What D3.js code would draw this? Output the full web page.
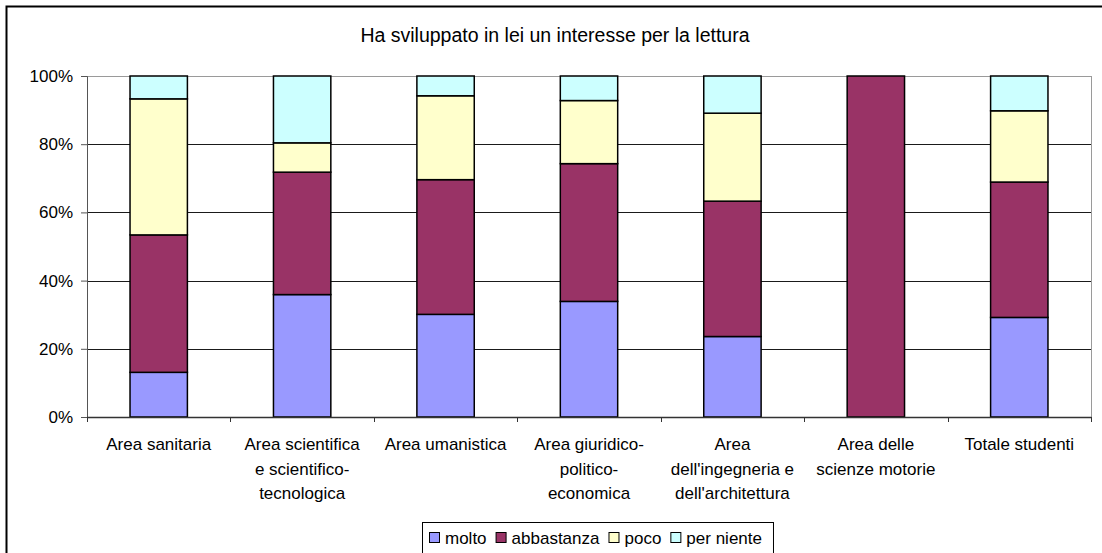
<!DOCTYPE html>
<html>
<head>
<meta charset="utf-8">
<script src="https://cdn.jsdelivr.net/npm/d3@7"></script>
<style>
  body { margin: 0; background: #fff; }
  text { font-family: "Liberation Sans", Arial, sans-serif; fill: #000; }
</style>
</head>
<body>
<div class="chart"></div>
<script>
var svgWidth = 1102;
var svgHeight = 553;
var margin = {top: 76, right: 11, bottom: 136, left: 87};
var width = svgWidth - margin.left - margin.right;
var height = svgHeight - margin.top - margin.bottom;

var titleText = "Ha sviluppato in lei un interesse per la lettura";

// categories (one line per label row)
var categories = [
    ["Area sanitaria"],
    ["Area scientifica", "e scientifico-", "tecnologica"],
    ["Area umanistica"],
    ["Area giuridico-", "politico-", "economica"],
    ["Area", "dell'ingegneria e", "dell'architettura"],
    ["Area delle", "scienze motorie"],
    ["Totale studenti"]
];
var seriesNames = ["molto", "abbastanza", "poco", "per niente"];
var seriesColors = ["#9999FF", "#993366", "#FFFFCC", "#CCFFFF"];

// percent values
var molto      = [13.1, 35.9, 30.1, 33.9, 23.6, 0,   29.2];
var abbastanza = [40.3, 35.9, 39.5, 40.4, 39.7, 100, 39.7];
var poco       = [39.9,  8.6, 24.6, 18.5, 25.8, 0,   20.9];
var perNiente  = [ 6.7, 19.6,  5.8,  7.2, 10.9, 0,   10.2];

var yTicks = [0, 20, 40, 60, 80, 100];

var rows = categories.map(function(c, i) {
    return {idx: i, molto: molto[i], abbastanza: abbastanza[i], poco: poco[i], "per niente": perNiente[i]};
});
var stacked = d3.stack().keys(seriesNames)(rows);

var svg = d3.select(".chart")
    .append("svg")
    .attr("width", svgWidth)
    .attr("height", svgHeight);

// outer frame
svg.append("rect")
    .attr("x", 6.5).attr("y", 6.5)
    .attr("width", 1200).attr("height", 700)
    .attr("fill", "none")
    .attr("stroke", "#000")
    .attr("stroke-width", 2);

svg.append("text")
    .attr("x", 555)
    .attr("y", 42)
    .attr("text-anchor", "middle")
    .style("font-size", "19.5px")
    .text(titleText);

var chartGroup = svg.append("g")
    .attr("transform", "translate(" + margin.left + "," + margin.top + ")");

var xScale = d3.scaleBand()
    .domain(d3.range(categories.length))
    .range([0, width])
    .paddingInner(0.6)
    .paddingOuter(0.3);

var yScale = d3.scaleLinear().domain([0, 100]).range([height, 0]);

// gridlines
chartGroup.selectAll(".grid")
    .data(yTicks.filter(function(t) { return t > 0 && t < 100; }))
    .enter()
    .append("line")
    .attr("x1", 0).attr("x2", width)
    .attr("y1", function(d) { return Math.round(yScale(d)) + 0.5; })
    .attr("y2", function(d) { return Math.round(yScale(d)) + 0.5; })
    .attr("stroke", "#1a1a1a");

// plot area border
chartGroup.append("rect")
    .attr("x", 0.5).attr("y", 0.5)
    .attr("width", width).attr("height", height)
    .attr("fill", "none")
    .attr("stroke", "#9a9a9a");

// bars
chartGroup.selectAll(".series")
    .data(stacked)
    .enter()
    .append("g")
    .attr("fill", function(d, i) { return seriesColors[i]; })
    .selectAll("rect")
    .data(function(d) { return d.filter(function(p) { return p[1] - p[0] > 0; }); })
    .enter()
    .append("rect")
    .attr("x", function(d) { return xScale(d.data.idx); })
    .attr("width", xScale.bandwidth())
    .attr("y", function(d) { return yScale(d[1]); })
    .attr("height", function(d) { return yScale(d[0]) - yScale(d[1]); })
    .attr("stroke", "#000")
    .attr("stroke-width", 1.5);

// y axis
var leftAxis = d3.axisLeft(yScale)
    .tickValues(yTicks)
    .tickSize(6)
    .tickPadding(8)
    .tickFormat(function(d) { return d + "%"; });

var yAxisG = chartGroup.append("g").call(leftAxis);
yAxisG.select(".domain").attr("stroke", "#555");
yAxisG.selectAll(".tick line").attr("stroke", "#555");
yAxisG.selectAll(".tick text")
    .style("font-family", "'Liberation Sans', Arial, sans-serif")
    .style("font-size", "17px")
    .attr("fill", "#000");

// x axis line and category boundary ticks
chartGroup.append("line")
    .attr("x1", 0).attr("x2", width + 0.5)
    .attr("y1", height + 0.5).attr("y2", height + 0.5)
    .attr("stroke", "#333")
    .attr("stroke-width", 1.5);

chartGroup.selectAll(".xtick")
    .data(d3.range(categories.length + 1))
    .enter()
    .append("line")
    .attr("x1", function(d) { return Math.round(d * xScale.step()) + 0.5; })
    .attr("x2", function(d) { return Math.round(d * xScale.step()) + 0.5; })
    .attr("y1", height)
    .attr("y2", height + 5)
    .attr("stroke", "#333");

// category labels
var labels = chartGroup.selectAll(".xlabel")
    .data(categories)
    .enter()
    .append("text")
    .attr("text-anchor", "middle")
    .attr("transform", function(d, i) {
        return "translate(" + (xScale(i) + xScale.bandwidth() / 2) + "," + (height + 33) + ")";
    })
    .style("font-size", "17px");

labels.selectAll("tspan")
    .data(function(d) { return d; })
    .enter()
    .append("tspan")
    .attr("x", 0)
    .attr("y", function(d, i) { return i * 24.5; })
    .text(function(d) { return d; });

// legend
var legend = svg.append("g");
var legendBox = legend.append("rect")
    .attr("y", 522.5)
    .attr("height", 60)
    .attr("fill", "#fff")
    .attr("stroke", "#000");

var lx = 429;
seriesNames.forEach(function(name, i) {
    legend.append("rect")
        .attr("x", lx + 0.5).attr("y", 532.5)
        .attr("width", 10).attr("height", 10)
        .attr("fill", seriesColors[i])
        .attr("stroke", "#000");
    var t = legend.append("text")
        .attr("x", lx + 16)
        .attr("y", 544)
        .style("font-size", "17px")
        .text(name);
    lx = lx + 16 + t.node().getComputedTextLength() + 9;
});
legendBox.attr("x", 422.5).attr("width", lx - 422 + 2);
</script>
</body>
</html>
